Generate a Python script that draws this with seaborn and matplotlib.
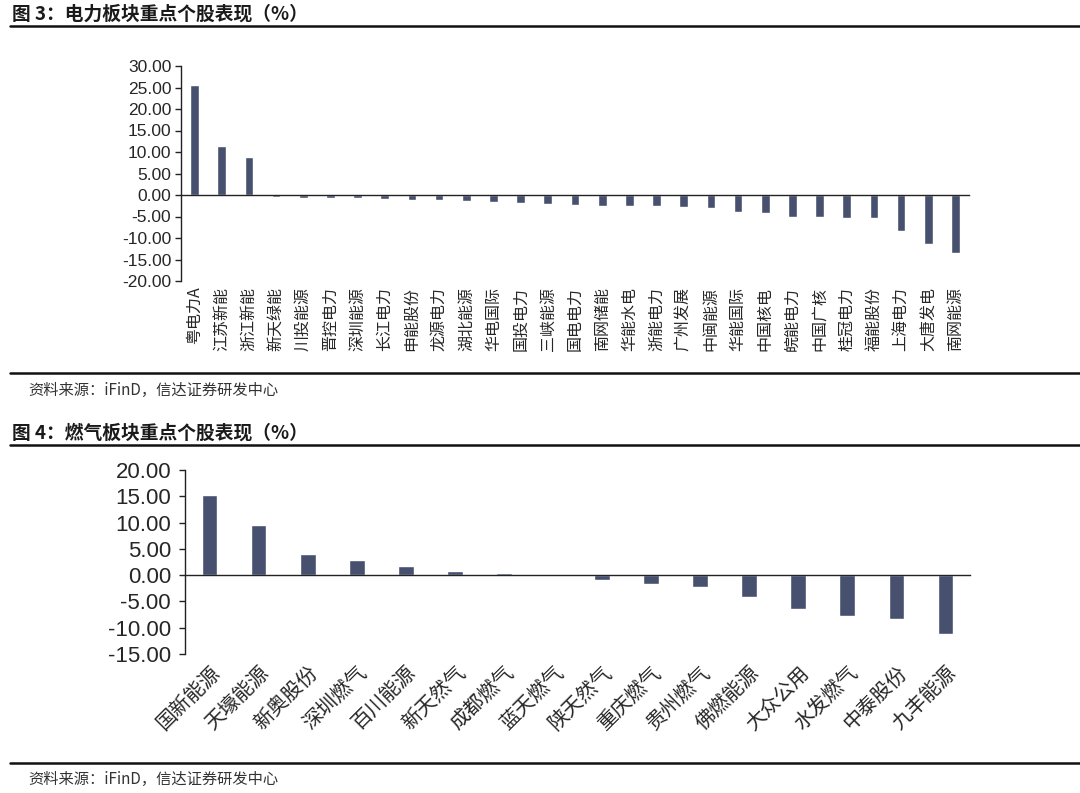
import matplotlib
matplotlib.use("Agg")
import matplotlib.pyplot as plt
import seaborn as sns
import pandas as pd
import numpy as np

# 图3 电力板块重点个股表现（%）
power_names = ["粤电力A", "江苏新能", "浙江新能", "新天绿能", "川投能源", "晋控电力", "深圳能源",
               "长江电力", "申能股份", "龙源电力", "湖北能源", "华电国际", "国投电力", "三峡能源",
               "国电电力", "南网储能", "华能水电", "浙能电力", "广州发展", "中闽能源", "华能国际",
               "中国核电", "皖能电力", "中国广核", "桂冠电力", "福能股份", "上海电力", "大唐发电",
               "南网能源"]
power_values = [25.5, 11.4, 8.8, -0.4, -0.6, -0.6, -0.6, -0.85, -1.1, -1.1, -1.5, -1.6, -1.8,
                -2.1, -2.3, -2.55, -2.55, -2.55, -2.7, -3.1, -4.0, -4.1, -5.1, -5.1, -5.3, -5.4,
                -8.4, -11.4, -13.4]

# 图4 燃气板块重点个股表现（%）
gas_names = ["国新能源", "天壕能源", "新奥股份", "深圳燃气", "百川能源", "新天然气", "成都燃气",
             "蓝天燃气", "陕天然气", "重庆燃气", "贵州燃气", "佛燃能源", "大众公用", "水发燃气",
             "中泰股份", "九丰能源"]
gas_values = [15.3, 9.6, 4.1, 2.85, 1.7, 0.8, 0.35, -0.05, -0.9, -1.65, -2.35, -4.25, -6.4,
              -7.75, -8.3, -11.2]

power_ticks = [30, 25, 20, 15, 10, 5, 0, -5, -10, -15, -20]
gas_ticks = [20, 15, 10, 5, 0, -5, -10, -15]

sns.set_style("white")
plt.rcParams['font.family'] = ['Liberation Sans', 'Noto Sans CJK SC', 'DejaVu Sans']
cjk = ['Noto Sans CJK SC', 'DejaVu Sans']
bar_color = "#47516f"

fig = plt.figure(figsize=(10.8, 7.93), dpi=100)


def draw_panel(ax, names, values, ticks, tick_size, label_size, rotation, ypad):
    df = pd.DataFrame({"name": names, "value": values})
    sns.barplot(data=df, x="name", y="value", color=bar_color, width=0.32,
                saturation=1, ax=ax)
    n = len(names)
    ax.set_xlim(-0.5, n - 0.5)
    ax.set_ylim(min(ticks), max(ticks))
    ax.set_yticks(ticks)
    ax.set_yticklabels([f"{t:.2f}" for t in ticks], fontsize=tick_size)
    ax.set_xlabel("")
    ax.set_ylabel("")
    for s in ["top", "right"]:
        ax.spines[s].set_visible(False)
    ax.spines["left"].set_color("#222222")
    ax.spines["left"].set_linewidth(1.0)
    ax.spines["bottom"].set_position(("data", 0))
    ax.spines["bottom"].set_color("#222222")
    ax.spines["bottom"].set_linewidth(1.0)
    ax.set_xticks(np.arange(n) + 0.5)
    ax.set_xticklabels([])
    ax.tick_params(axis="x", direction="out", length=4, width=1, color="#222222")
    ax.tick_params(axis="y", direction="out", length=4, width=1, color="#222222", pad=ypad,
                   left=True)
    # category labels at the bottom of the panel
    sec = ax.secondary_xaxis("bottom")
    sec.spines["bottom"].set_visible(False)
    sec.set_xticks(np.arange(n))
    if rotation == 90:
        sec.set_xticklabels(names, rotation=90, fontsize=label_size, family=cjk,
                            va="top", ha="center")
        sec.tick_params(axis="x", length=0, pad=4)
    else:
        sec.set_xticklabels(names, rotation=45, fontsize=label_size, family=cjk,
                            ha="right", va="top", rotation_mode="anchor")
        sec.tick_params(axis="x", length=0, pad=6)


ax1 = fig.add_axes([181 / 1080, 1 - 281 / 793, 788 / 1080, 215 / 793])
draw_panel(ax1, power_names, power_values, power_ticks, 12.5, 11.5, 90, 3)

ax2 = fig.add_axes([185 / 1080, 1 - 654 / 793, 785 / 1080, 184 / 793])
draw_panel(ax2, gas_names, gas_values, gas_ticks, 16, 14.5, 45, 6)

# titles, rules and sources
fig.text(12 / 1080, 1 - 14 / 793, "图 3：电力板块重点个股表现（%）", family=cjk,
         fontsize=13.5, fontweight="bold", color="#1a1a1a", va="center", ha="left")
fig.text(12 / 1080, 1 - 433 / 793, "图 4：燃气板块重点个股表现（%）", family=cjk,
         fontsize=13.5, fontweight="bold", color="#1a1a1a", va="center", ha="left")
for y in [25.5, 373, 445, 762.5]:
    fig.add_artist(plt.Line2D([10 / 1080, 1], [1 - y / 793, 1 - y / 793],
                              color="#111111", linewidth=1.8, transform=fig.transFigure))
for y in [390, 779]:
    fig.text(28 / 1080, 1 - y / 793, "资料来源：iFinD，信达证券研发中心", family=cjk,
             fontsize=11, style="italic", color="#333333", va="center", ha="left")

fig.savefig("out.png", dpi=100)
